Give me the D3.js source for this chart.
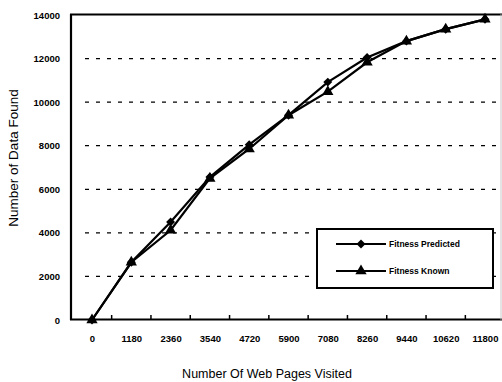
<!DOCTYPE html>
<html><head><meta charset="utf-8">
<script src="https://cdn.jsdelivr.net/npm/d3@7"></script>
<style>body{margin:0;background:#fff}svg{display:block}text{font-family:"Liberation Sans",Arial,sans-serif;fill:#000}</style>
</head><body>
<svg id="c" width="502" height="382"></svg>
<script>
const categories = ["0","1180","2360","3540","4720","5900","7080","8260","9440","10620","11800"];
const predicted = [0,2650,4500,6560,8050,9400,10920,12050,12800,13350,13800];
const known     = [0,2650,4120,6500,7850,9400,10480,11830,12800,13350,13800];
const yTicks = [0,2000,4000,6000,8000,10000,12000,14000];
const seriesNames = ["Fitness Predicted","Fitness Known"];

const svg = d3.select("#c");
const x = d3.scalePoint().domain(categories).range([92,485]);
const y = d3.scaleLinear().domain([0,14000]).range([320,15]);
const step = x.step();

// gridlines
svg.append("g").selectAll("line").data(yTicks.filter(v=>v>0&&v<14000)).join("line")
  .attr("x1",85).attr("x2",497).attr("y1",d=>y(d)).attr("y2",d=>y(d))
  .attr("stroke","#000").attr("stroke-width",1.3).attr("stroke-dasharray","4,7");

// frame
svg.append("line").attr("x1",71).attr("x2",71).attr("y1",14).attr("y2",320).attr("stroke","#000").attr("stroke-width",2.2);
svg.append("line").attr("x1",70).attr("x2",502).attr("y1",y(14000)-0.5).attr("y2",y(14000)-0.5).attr("stroke","#000").attr("stroke-width",2.2);
svg.append("line").attr("x1",70).attr("x2",502).attr("y1",319.5).attr("y2",319.5).attr("stroke","#000").attr("stroke-width",2);
svg.append("line").attr("x1",501).attr("x2",501).attr("y1",14).attr("y2",320).attr("stroke","#bbb").attr("stroke-width",0.8);

// minor x ticks
svg.append("g").selectAll("line").data(categories.slice(0,-1)).join("line")
  .attr("x1",d=>x(d)+step/2).attr("x2",d=>x(d)+step/2).attr("y1",319).attr("y2",315)
  .attr("stroke","#000").attr("stroke-width",1.5);

// y axis labels
const yAxis = d3.axisLeft(y).tickValues(yTicks).tickSize(0).tickPadding(0).tickFormat(d3.format("d"));
const gy = svg.append("g").attr("transform","translate(60,0)").call(yAxis);
gy.select(".domain").remove();
gy.selectAll("text").attr("font-size",9.5).attr("font-weight","bold").attr("font-family","'Liberation Sans',Arial,sans-serif");

// x axis labels
const xAxis = d3.axisBottom(x).tickSize(0).tickPadding(0);
const gx = svg.append("g").attr("transform","translate(0,335)").call(xAxis);
gx.select(".domain").remove();
gx.selectAll("text").attr("font-size",9.5).attr("font-weight","bold").attr("font-family","'Liberation Sans',Arial,sans-serif");

// lines
const line = d3.line().x((d,i)=>x(categories[i])).y(d=>y(d));
[predicted, known].forEach(s=>{
  svg.append("path").datum(s).attr("d",line).attr("fill","none").attr("stroke","#000").attr("stroke-width",2.2);
});
const diamond = d3.symbol().type(d3.symbolSquare).size(40);
const tri = d3.symbol().type(d3.symbolTriangle).size(55);
svg.append("g").selectAll("path").data(known).join("path")
  .attr("transform",(d,i)=>`translate(${x(categories[i])},${y(d)})`).attr("d",tri).attr("fill","#000");
svg.append("g").selectAll("path").data(predicted).join("path")
  .attr("transform",(d,i)=>`translate(${x(categories[i])},${y(d)}) rotate(45)`).attr("d",diamond).attr("fill","#000");

// legend
const lg = svg.append("g");
lg.append("rect").attr("x",317).attr("y",229).attr("width",176).attr("height",59).attr("fill","#fff").attr("stroke","#000").attr("stroke-width",2);
seriesNames.forEach((n,i)=>{
  const yy = 244 + i*27;
  lg.append("line").attr("x1",336).attr("x2",386).attr("y1",yy).attr("y2",yy).attr("stroke","#000").attr("stroke-width",1.8);
  lg.append("path").attr("transform",`translate(361,${yy})${i===0?" rotate(45)":""}`).attr("d",i===0?diamond:tri).attr("fill","#000");
  lg.append("text").attr("x",389).attr("y",yy+3).attr("font-size",8.5).attr("font-weight","bold").text(n);
});

// titles
svg.append("text").attr("x",267).attr("y",378).attr("text-anchor","middle").attr("font-size",12.5).text("Number Of Web Pages Visited");
svg.append("text").attr("transform","translate(18,158) rotate(-90)").attr("text-anchor","middle").attr("font-size",13.5).text("Number of Data Found");
</script>
</body></html>
